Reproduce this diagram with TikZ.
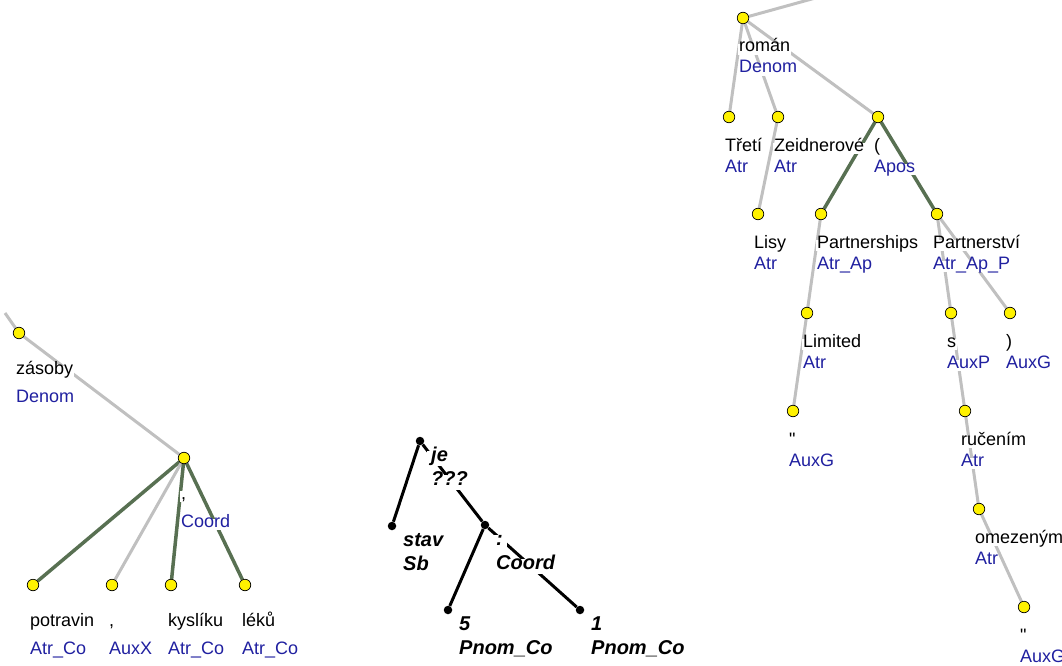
\documentclass[tikz,border=0pt]{standalone}
\usepackage{fontspec}
\setmainfont{Liberation Sans}
\newfontfamily\plainsans{Liberation Sans}
\usetikzlibrary{backgrounds}
\definecolor{edgegray}{RGB}{192,192,192}
\definecolor{edgegreen}{RGB}{88,112,82}
\definecolor{fnblue}{RGB}{32,32,160}

\begin{document}
\begin{tikzpicture}[x=1pt,y=-1pt,
	ydot/.style={circle,draw=black,fill=yellow,line width=0.7pt,inner sep=0pt,minimum size=11.5pt},
	bdot/.style={circle,fill=black,inner sep=0pt,minimum size=8.5pt},
	lab/.style={anchor=base west,fill=white,inner sep=1pt,text height=0.72em,text depth=0.22em,font=\fontsize{18}{21}\selectfont},
	fn/.style={lab,text=fnblue},
	blab/.style={lab,inner ysep=2.5pt,inner xsep=4pt,font=\fontsize{20}{23}\selectfont\bfseries\itshape},
	grayedge/.style={draw=edgegray,line width=3pt},
	greenedge/.style={draw=edgegreen,line width=3.5pt},
	blackedge/.style={draw=black,line width=3pt}]
	\useasboundingbox (0,0) rectangle (1062,666);

	% left tree
	\coordinate (ltop) at (5,313);
	\foreach \n/\x/\y/\w/\f in {zas/19/333/zásoby/Denom, crd/184/458/{,}/Coord,
		pot/33/585/potravin/Atr\_Co, cma/112/585/{,}/AuxX,
		kys/171/585/kyslíku/Atr\_Co, lek/245/585/léků/Atr\_Co}{
		\node[ydot] (\n) at (\x,\y) {};
		\node[lab] (\n-w) at ({\x-4},{\y+41}) {\w};
		\node[fn] (\n-f) at ({\x-4},{\y+69}) {\f};
	}

	% middle tree
	\foreach \n/\x/\y/\w/\f in {je/420/441/je/???, sta/392/526/stav/Sb,
		co/485/525/:/Coord, n5/448/610/5/Pnom\_Co, n1/580/610/1/Pnom\_Co}{
		\node[bdot] (\n) at (\x,\y) {};
		\node[blab] (\n-w) at ({\x+7},{\y+20}) {\w};
		\node[blab] (\n-f) at ({\x+7},{\y+44}) {\f};
	}

	% right tree
	\coordinate (rtop) at (819,-3);
	\foreach \n/\x/\y/\w/\f in {rom/743/18/román/Denom, tre/729/117/Třetí/Atr,
		zei/778/117/Zeidnerové/Atr, apo/878/117/{(}/Apos, lis/758/214/Lisy/Atr,
		pas/821/214/Partnerships/Atr\_Ap, pav/937/214/Partnerství/Atr\_Ap\_P,
		lim/807/313/Limited/Atr, qa/793/411/{\plainsans"}/AuxG, s/951/313/s/AuxP,
		rp/1010/313/{)}/AuxG, ruc/965/411/ručením/Atr, ome/979/509/omezeným/Atr,
		qb/1024/607/{\plainsans"}/AuxG}{
		\node[ydot] (\n) at (\x,\y) {};
		\node[lab] (\n-w) at ({\x-5},{\y+34}) {\w};
		\node[fn] (\n-f) at ({\x-5},{\y+55}) {\f};
	}

	\begin{scope}[on background layer]
		\draw[grayedge] (ltop) -- (zas);
		\draw[grayedge] (zas) -- (crd);
		\draw[greenedge] (crd) -- (pot);
		\draw[grayedge] (crd) -- (cma);
		\draw[greenedge] (crd) -- (kys);
		\draw[greenedge] (crd) -- (lek);

		\draw[blackedge] (je) -- (sta);
		\draw[blackedge] (je) -- (co);
		\draw[blackedge] (co) -- (n5);
		\draw[blackedge] (co) -- (n1);

		\draw[grayedge] (rom) -- (rtop);
		\draw[grayedge] (rom) -- (tre);
		\draw[grayedge] (rom) -- (zei);
		\draw[grayedge] (rom) -- (apo);
		\draw[grayedge] (zei) -- (lis);
		\draw[greenedge] (apo) -- (pas);
		\draw[greenedge] (apo) -- (pav);
		\draw[grayedge] (pas) -- (lim);
		\draw[grayedge] (lim) -- (qa);
		\draw[grayedge] (pav) -- (s);
		\draw[grayedge] (pav) -- (rp);
		\draw[grayedge] (s) -- (ruc);
		\draw[grayedge] (ruc) -- (ome);
		\draw[grayedge] (ome) -- (qb);
	\end{scope}
\end{tikzpicture}
\end{document}
